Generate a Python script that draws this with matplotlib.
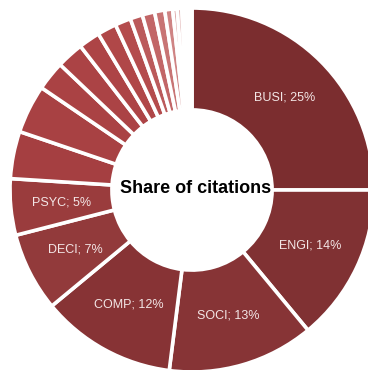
import numpy as np
import matplotlib.pyplot as plt

plt.rcParams['font.family'] = ['Liberation Sans', 'DejaVu Sans']

# subject areas by share of citations (%), clockwise from 12 o'clock
labels = ['BUSI', 'ENGI', 'SOCI', 'COMP', 'DECI', 'PSYC',
          '', '', '', '', '', '', '', '', '', '', '', '', '', '', '', '']
shares = [25, 14, 13, 12, 7, 5,
          4.2, 4.3, 2.6, 2.4, 1.9, 1.7, 1.4, 1.1, 1.1, 0.9, 0.7, 0.4, 0.4, 0.3, 0.3, 0.3]
colors = ['#7b2d2f', '#803133', '#873436', '#873335', '#923a3b', '#9a3c3d',
          '#a53f41', '#a84143', '#aa4244', '#ab4345', '#ad4446', '#b04748',
          '#b44c4d', '#bb5a5b', '#c26667', '#c87474', '#cf8484', '#d59494',
          '#dba4a4', '#e0b2b2', '#e5c0c0', '#eacccc']

fig = plt.figure(figsize=(3.68, 3.70), dpi=100)
ax = fig.add_axes([0, 0, 1, 1])

wedges, _ = ax.pie(shares, colors=colors, startangle=90, counterclock=False,
                   radius=1.0,
                   wedgeprops=dict(width=0.56, edgecolor='white', linewidth=2.6))

# label the big slices in the middle of the ring
for w, lab, val in zip(wedges, labels, shares):
    if not lab:
        continue
    ang = np.deg2rad((w.theta1 + w.theta2) / 2)
    r = 0.72
    ax.text(r * np.cos(ang), r * np.sin(ang), f'{lab}; {val}%',
            ha='center', va='center', fontsize=9, color='#f3e6e6')

ax.text(0.02, 0.01, 'Share of citations', ha='center', va='center',
        fontsize=13, fontweight='bold', color='black')

ax.set_xlim(-1.055, 0.967)
ax.set_ylim(-0.989, 1.044)
ax.set_aspect('equal')
ax.axis('off')

fig.savefig('out.png', dpi=100, facecolor='white')
